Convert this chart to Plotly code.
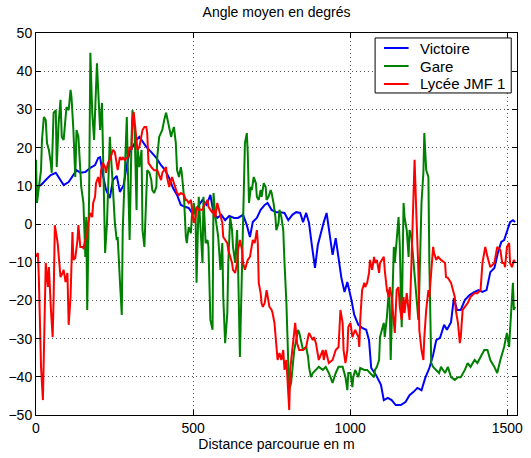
import plotly.graph_objects as go

# Distance parcourue (m) et angle moyen (degrés) pour chaque trajet
victoire_dist = [0, 16, 31, 47, 63, 78, 88, 104, 116, 129, 141, 157, 173, 188, 198, 204, 213, 223, 235, 245,
                 257, 267, 279, 289, 298, 311, 320, 329, 339, 351, 367, 383, 398, 411, 424, 436, 449, 461, 474, 486,
                 499, 508, 518, 530, 543, 555, 565, 577, 590, 602, 615, 631, 643, 659, 671, 681, 690, 703, 715, 728,
                 737, 750, 765, 778, 791, 803, 816, 828, 841, 850, 860, 869, 878, 888, 897, 907, 916, 925, 935, 944,
                 954, 963, 972, 982, 991, 1004, 1013, 1026, 1038, 1051, 1060, 1067, 1082, 1098, 1107, 1120, 1132, 1145, 1161, 1176,
                 1189, 1201, 1214, 1227, 1239, 1252, 1264, 1274, 1286, 1299, 1308, 1321, 1330, 1340, 1352, 1365, 1380, 1396, 1409, 1421,
                 1434, 1446, 1459, 1471, 1481, 1490, 1499, 1509, 1518, 1525]
victoire_angle = [9.7, 10.2, 11.5, 12.8, 13.4, 11.5, 10.2, 11.0, 12.6, 14.1, 13.4, 13.6, 14.7, 15.4, 17.3, 17.5, 12.8, 8.9, 6.8, 11.5,
                  12.6, 8.4, 10.2, 15.4, 18.8, 20.7, 22.0, 22.8, 21.5, 20.2, 18.8, 17.3, 15.4, 14.1, 12.0, 9.4, 7.6, 5.0, 4.5, 4.2,
                  2.6, 3.7, 5.0, 6.3, 5.0, 7.6, 2.9, 1.6, 2.4, 1.0, 2.1, 1.6, 1.6, 2.4, -0.3, -3.4, 0.5, 1.6, 3.7, 5.0,
                  5.5, 3.7, 3.1, 3.1, 2.9, 1.0, 2.4, 3.1, 2.9, 0.5, 2.9, 0.3, -5.5, -11.5, -5.5, -2.1, 0.5, 2.9, -2.9, -8.1,
                  -3.7, -8.4, -14.1, -17.8, -15.2, -19.9, -23.8, -26.4, -27.2, -27.7, -30.4, -37.7, -39.5, -42.1, -46.1, -45.5, -46.1, -47.4, -47.4, -46.6,
                  -44.8, -44.0, -42.9, -43.5, -40.3, -37.7, -34.3, -30.4, -29.8, -26.4, -27.7, -25.7, -19.4, -22.5, -22.5, -19.9, -18.6, -17.8, -17.3, -17.8,
                  -17.3, -12.6, -11.5, -7.3, -4.7, -4.2, -2.1, 0.5, 1.0, 0.5]

gare_dist = [0, 3, 16, 19, 25, 31, 35, 41, 47, 50, 56, 63, 66, 72, 78, 82, 88, 94, 97, 104,
             110, 113, 119, 125, 129, 135, 141, 144, 151, 157, 160, 163, 169, 173, 179, 185, 188, 194, 201, 204,
             210, 216, 220, 226, 232, 235, 242, 248, 251, 257, 260, 267, 273, 276, 282, 289, 292, 298, 304, 307,
             314, 320, 323, 329, 336, 339, 345, 351, 354, 361, 367, 370, 376, 383, 386, 392, 398, 402, 408, 414,
             417, 424, 430, 433, 439, 445, 449, 455, 461, 464, 471, 477, 480, 486, 493, 496, 502, 508, 511, 518,
             524, 530, 533, 540, 546, 549, 555, 562, 565, 571, 577, 580, 587, 593, 596, 602, 609, 612, 618, 624,
             627, 634, 640, 643, 649, 656, 659, 665, 671, 674, 678, 684, 687, 693, 700, 703, 709, 715, 718, 725,
             731, 734, 740, 747, 750, 756, 762, 765, 772, 775, 781, 787, 791, 797, 803, 806, 812, 819, 822, 828,
             834, 838, 844, 850, 860, 866, 869, 875, 881, 891, 900, 913, 922, 932, 944, 954, 963, 976, 985, 991,
             994, 1001, 1007, 1010, 1016, 1026, 1032, 1045, 1054, 1063, 1076, 1079, 1085, 1092, 1095, 1101, 1107, 1110, 1117, 1123,
             1126, 1129, 1136, 1139, 1142, 1148, 1154, 1158, 1161, 1164, 1167, 1170, 1173, 1180, 1186, 1189, 1195, 1201, 1205, 1211,
             1217, 1220, 1227, 1233, 1236, 1242, 1249, 1252, 1258, 1264, 1274, 1283, 1289, 1302, 1311, 1321, 1333, 1343, 1352, 1365,
             1374, 1383, 1396, 1405, 1415, 1427, 1437, 1446, 1459, 1468, 1478, 1490, 1499, 1506, 1509, 1515, 1518, 1521, 1525]
gare_angle = [16.8, 5.5, 14.1, 22.0, 28.0, 27.2, 21.2, 19.4, 16.0, 13.4, 29.1, 29.8, 14.9, 26.4, 32.5, 22.8, 22.0, 29.8, 30.6, 29.8,
              35.1, 33.2, 24.6, 12.3, 24.6, 22.8, 14.9, 9.7, 5.5, -8.6, 1.8, -22.5, 7.1, 44.8, 29.1, 22.0, 29.1, 42.1, 29.8, 24.6,
              31.7, 7.1, -7.6, 0.3, 17.5, 22.8, 13.4, 1.8, 0.3, -4.2, -3.4, -14.7, -23.8, -1.6, 14.1, 28.0, 16.0, -4.2, 22.0, 29.8,
              24.6, 3.7, 20.2, 14.9, 19.4, -1.6, -6.0, 5.5, 14.1, 13.4, 11.5, 8.9, 8.1, 9.7, 17.5, 22.8, 23.8, 24.6, 27.2, 29.1,
              28.0, 25.4, 22.8, 23.8, 25.4, 21.2, 14.1, 12.3, 14.9, 13.4, 7.1, -3.4, -5.0, -0.8, -2.4, 1.8, 5.5, 1.8, -15.4, 7.1,
              -1.6, -10.2, 7.1, -5.0, -4.2, -6.0, -25.1, -27.7, 8.1, 1.8, -1.6, -3.4, -12.0, -5.0, -19.1, -31.2, -23.3, -10.2, 1.8, -1.6,
              -6.0, -10.2, -1.6, -10.2, -34.8, -10.2, 5.5, 21.2, 23.8, 18.6, 5.5, 9.7, 8.9, 12.3, 10.7, 7.1, 6.3, 8.9, 7.1, 10.7,
              9.7, 6.3, 7.1, 8.9, 8.1, 5.5, 1.8, -1.6, 0.3, 3.7, 1.8, -1.6, -10.2, -20.7, -36.4, -43.5, -41.6, -36.4, -33.0, -30.4,
              -27.7, -28.5, -31.2, -33.0, -32.2, -34.8, -37.4, -40.1, -39.0, -38.2, -37.4, -38.2, -37.4, -39.0, -41.6, -39.0, -37.4, -37.4, -40.1, -43.5,
              -39.0, -39.0, -42.7, -40.1, -38.2, -40.1, -37.7, -38.2, -38.2, -39.0, -40.1, -38.2, -37.4, -35.6, -29.6, -27.7, -25.9, -29.6, -24.3, -17.3,
              -21.7, -35.6, -17.3, -6.0, -10.2, -5.0, 1.8, -6.0, -14.7, -27.0, -10.2, 5.5, 1.8, -1.6, -8.6, -1.6, -3.4, -9.4, -13.9, -20.7,
              -25.1, -17.3, 5.5, 13.4, 23.8, 14.1, 12.3, -10.2, -36.4, -37.4, -38.2, -39.0, -37.4, -39.0, -37.4, -40.1, -40.8, -40.1, -40.1, -38.2,
              -36.4, -37.4, -35.6, -36.4, -34.8, -33.0, -33.0, -35.6, -37.4, -39.0, -35.6, -32.2, -28.5, -32.2, -27.7, -19.1, -15.4, -22.5, -21.7]

lycee_dist = [0, 6, 9, 16, 22, 25, 31, 38, 41, 47, 53, 56, 60, 69, 78, 85, 88, 94, 100, 104,
              110, 116, 119, 125, 132, 135, 141, 147, 151, 157, 163, 166, 173, 179, 182, 188, 191, 198, 204, 207,
              213, 220, 223, 229, 235, 242, 245, 251, 257, 260, 267, 273, 276, 282, 292, 298, 304, 307, 311, 317,
              320, 323, 329, 336, 339, 345, 351, 354, 358, 367, 376, 386, 398, 402, 408, 414, 417, 424, 430, 433,
              439, 445, 449, 455, 461, 471, 477, 480, 486, 493, 496, 502, 508, 511, 518, 524, 530, 533, 540, 546,
              549, 555, 562, 565, 571, 577, 580, 587, 593, 596, 602, 609, 612, 618, 624, 627, 634, 640, 643, 649,
              656, 659, 665, 671, 674, 681, 687, 690, 696, 703, 706, 709, 715, 718, 722, 728, 734, 737, 743, 750,
              753, 759, 765, 769, 775, 781, 787, 791, 797, 803, 806, 809, 816, 822, 825, 831, 838, 850, 860, 866,
              869, 881, 885, 891, 897, 900, 913, 916, 922, 932, 944, 954, 963, 969, 976, 979, 985, 991, 994, 1001,
              1007, 1016, 1026, 1029, 1032, 1038, 1045, 1048, 1054, 1060, 1063, 1070, 1076, 1079, 1085, 1092, 1095, 1101, 1107, 1110,
              1117, 1123, 1126, 1132, 1139, 1142, 1148, 1154, 1158, 1164, 1170, 1173, 1180, 1186, 1189, 1195, 1201, 1205, 1211, 1217,
              1220, 1227, 1233, 1236, 1242, 1249, 1252, 1258, 1264, 1267, 1274, 1280, 1289, 1302, 1305, 1311, 1321, 1333, 1336, 1343,
              1349, 1352, 1358, 1365, 1374, 1383, 1396, 1405, 1415, 1421, 1427, 1430, 1437, 1446, 1459, 1462, 1468, 1478, 1484, 1490,
              1493, 1499, 1506, 1509, 1515, 1521, 1525]
lycee_angle = [-8.6, -7.6, -13.9, -37.4, -46.1, -31.2, -10.2, -16.5, -11.3, -21.7, -29.6, -19.9, -0.3, -5.0, -13.9, -12.8, -12.0, -15.2, -12.8, -26.4,
               -19.1, -2.1, -9.4, -8.9, -4.2, -0.3, -6.0, -6.0, -6.3, -4.2, -2.4, 0.3, 2.9, 1.8, 5.5, 7.1, 10.7, 12.3, 9.7, 14.1,
               16.0, 14.9, 13.4, 16.0, 16.8, 18.6, 19.4, 18.8, 14.9, 14.1, 17.5, 16.8, 17.5, 16.8, 17.5, 20.2, 19.4, 27.2, 29.3, 24.6,
               22.0, 19.4, 20.2, 23.8, 24.6, 25.4, 25.4, 23.8, 16.0, 14.9, 14.1, 14.1, 11.5, 13.4, 14.1, 14.9, 12.3, 9.7, 11.5, 12.3,
               10.7, 8.9, 8.1, 7.6, 8.1, 7.6, 6.3, 6.3, 5.5, 6.3, 3.7, 0.3, 1.8, 4.5, 3.7, 3.7, 3.7, 4.5, 5.5, 6.3,
               4.5, 3.7, 2.9, 3.7, 1.8, 5.5, 4.5, 2.9, 0.3, -3.4, -4.2, -5.0, -6.8, -8.6, -10.2, -12.0, -12.8, -10.2, -6.8, -4.2,
               -6.8, -10.2, -12.0, -10.2, -9.4, -8.6, -5.0, -4.2, -5.0, -1.6, -5.0, -15.4, -18.1, -20.7, -21.7, -20.7, -17.3, -19.1, -21.7, -22.5,
               -23.3, -25.9, -33.0, -35.6, -33.8, -35.6, -33.0, -38.2, -35.6, -45.3, -48.7, -38.2, -32.2, -27.7, -25.9, -31.2, -33.0, -33.0, -32.2, -29.6,
               -28.5, -30.4, -29.6, -31.2, -34.8, -35.6, -33.0, -35.6, -33.0, -36.4, -35.6, -33.0, -32.2, -22.5, -25.9, -33.0, -36.4, -33.0, -27.0, -25.9,
               -29.6, -27.7, -29.6, -32.2, -25.1, -17.3, -15.4, -16.5, -15.4, -12.8, -9.4, -12.0, -8.6, -10.2, -9.4, -12.8, -10.2, -9.4, -8.6, -12.0,
               -17.3, -19.1, -16.5, -19.1, -25.1, -28.5, -17.3, -16.5, -21.7, -25.1, -19.1, -23.3, -18.1, -23.3, -25.1, -10.2, 7.1, 16.8, 1.8, -12.0,
               -27.7, -33.0, -35.6, -29.6, -22.5, -17.3, -19.1, -12.0, -6.0, -7.6, -9.4, -8.6, -9.4, -10.2, -13.9, -14.1, -15.4, -19.1, -22.5, -25.9,
               -31.2, -29.6, -22.5, -21.7, -20.7, -19.1, -18.1, -18.1, -17.3, -10.2, -6.8, -6.0, -8.6, -11.3, -10.2, -8.6, -6.0, -6.8, -10.2, -10.2,
               -11.3, -6.0, -5.0, -10.2, -11.3, -9.4, -10.2]

series_names = ["Victoire", "Gare", "Lycée JMF 1"]
series_colors = ["#0000FF", "#008000", "#FF0000"]

x_ticks = [0, 500, 1000, 1500]
y_ticks = [-50, -40, -30, -20, -10, 0, 10, 20, 30, 40, 50]

FONT = "Liberation Sans, Arial, Helvetica, sans-serif"

fig = go.Figure()
for dist, angle, name, color in zip(
        [victoire_dist, gare_dist, lycee_dist],
        [victoire_angle, gare_angle, lycee_angle],
        series_names, series_colors):
    fig.add_trace(go.Scatter(x=dist, y=angle, mode="lines", name=name,
                             line=dict(color=color, width=2), showlegend=False))

axis_common = dict(
    showline=True, linecolor="black", linewidth=1, mirror="ticks",
    ticks="inside", ticklen=5, tickcolor="black", tickwidth=1,
    showgrid=True, gridcolor="#555555", gridwidth=1, griddash="1px,3px",
    zeroline=False, tickfont=dict(family=FONT, size=14, color="black"),
)

fig.update_xaxes(range=[0, 1531], tickvals=x_ticks,
                 title=dict(text="Distance parcourue en m", font=dict(family=FONT, size=14, color="black"),
                            standoff=4),
                 **axis_common)
fig.update_yaxes(range=[-50, 50], tickvals=y_ticks, **axis_common)

# Compact boxed legend in the upper-right corner of the axes
box_x0, box_x1, box_y0, box_y1 = 0.705, 0.988, 0.843, 0.987
row_y = [0.9607, 0.9136, 0.8665]
fig.add_shape(type="rect", xref="paper", yref="paper", x0=box_x0, x1=box_x1, y0=box_y0, y1=box_y1,
              line=dict(color="black", width=1), fillcolor="white", layer="above")
for name, color, ry in zip(series_names, series_colors, row_y):
    fig.add_shape(type="line", xref="paper", yref="paper", x0=0.7234, x1=0.7746, y0=ry, y1=ry,
                  line=dict(color=color, width=2), layer="above")
    fig.add_annotation(xref="paper", yref="paper", x=0.795, y=ry, text=name, showarrow=False,
                       xanchor="left", yanchor="middle",
                       font=dict(family=FONT, size=15, color="black"))

fig.update_layout(
    width=531, height=458,
    margin=dict(l=35, r=8, t=33, b=43),
    paper_bgcolor="white", plot_bgcolor="white",
    title=dict(text="Angle moyen en degrés", x=0.5, xref="paper", y=0.985, yanchor="top",
               font=dict(family=FONT, size=14, color="black")),
    font=dict(family=FONT, color="black"),
)

fig.write_html("out.html")
